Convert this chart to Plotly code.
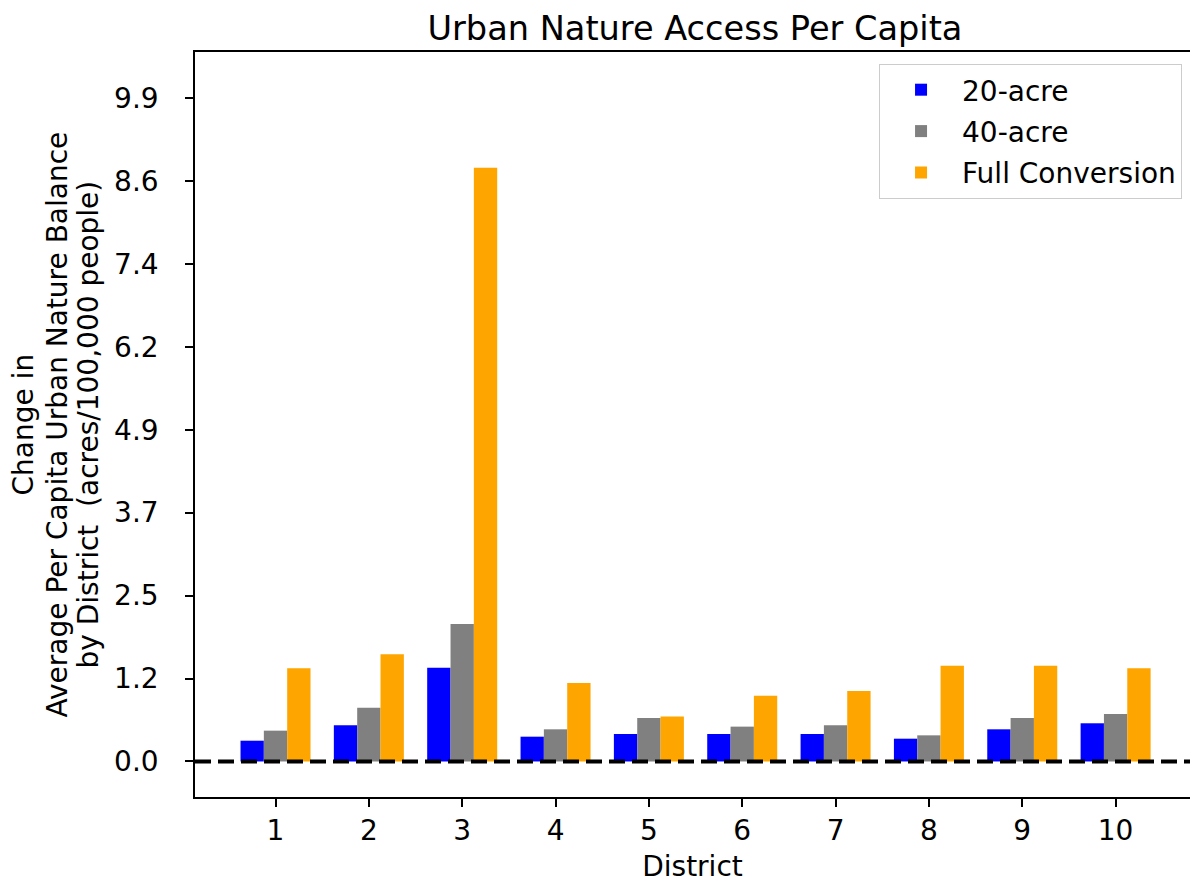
import plotly.graph_objects as go

districts = [1, 2, 3, 4, 5, 6, 7, 8, 9, 10]
acre20 = [0.31, 0.54, 1.40, 0.37, 0.41, 0.41, 0.41, 0.34, 0.48, 0.57]
acre40 = [0.46, 0.80, 2.05, 0.48, 0.65, 0.52, 0.54, 0.39, 0.65, 0.71]
full_conv = [1.39, 1.60, 8.86, 1.17, 0.67, 0.98, 1.05, 1.43, 1.43, 1.39]

ytick_vals = [0.0, 1.2375, 2.475, 3.7125, 4.95, 6.1875, 7.425, 8.6625, 9.9]
ytick_text = ["0.0", "1.2", "2.5", "3.7", "4.9", "6.2", "7.4", "8.6", "9.9"]

ytitle_lines = ["Change in",
                "Average Per Capita Urban Nature Balance",
                "by District  (acres/100,000 people)"]

FONT = "DejaVu Sans"

fig = go.Figure()
series = [("20-acre", acre20, "#0000ff"),
          ("40-acre", acre40, "#808080"),
          ("Full Conversion", full_conv, "#ffa500")]
for name, vals, col in series:
    fig.add_trace(go.Bar(x=districts, y=vals, name=name, marker_color=col,
                         marker_line_width=0, legendgroup=name))

fig.add_shape(type="line", xref="paper", yref="y", x0=0, x1=1, y0=0, y1=0,
              line=dict(color="black", width=4, dash="16px,7px"), layer="above")

# multi-line y-axis title (matplotlib-like tight line spacing)
for shift, line in zip([-172, -138, -107], ytitle_lines):
    fig.add_annotation(text=line, xref="paper", yref="paper", x=0, y=0.5,
                       xshift=shift, xanchor="center", yanchor="middle",
                       textangle=-90, showarrow=False,
                       font=dict(family=FONT, size=28, color="black"))

fig.update_layout(
    width=1190, height=884,
    margin=dict(l=195, r=0, t=52, b=87, autoexpand=False),
    paper_bgcolor="white", plot_bgcolor="white",
    barmode="group", bargap=0.25, bargroupgap=0,
    font=dict(family=FONT, size=28, color="black"),
    title=dict(text="Urban Nature Access Per Capita", x=0.584, xanchor="center",
               y=0.968, yanchor="middle", font=dict(family=FONT, size=33.6, color="black")),
    legend=dict(x=0.992, xanchor="right", y=0.9839, yanchor="top",
                bordercolor="#cccccc", borderwidth=1, bgcolor="white",
                font=dict(family=FONT, size=28), tracegroupgap=2,
                itemwidth=72),
    showlegend=True,
)
fig.update_xaxes(range=[0.1375, 10.797], tickvals=districts,
                 ticktext=[str(d) for d in districts],
                 showline=True, linecolor="black", linewidth=1.5, mirror=True,
                 ticks="outside", ticklen=8, tickwidth=1.5, tickcolor="black",
                 showgrid=False, zeroline=False, automargin=False,
                 title=dict(text="District", standoff=10, font=dict(size=28)))
fig.update_yaxes(range=[-0.53, 10.586], tickvals=ytick_vals, ticktext=ytick_text,
                 showline=True, linecolor="black", linewidth=1.5, mirror=False,
                 ticks="outside", ticklen=8, tickwidth=1.5, tickcolor="black",
                 ticklabelstandoff=21, automargin=False,
                 showgrid=False, zeroline=False)

fig.write_html("out.html", config={"displayModeBar": False},
               post_script="document.body.style.margin='0';document.body.style.overflow='hidden';")
